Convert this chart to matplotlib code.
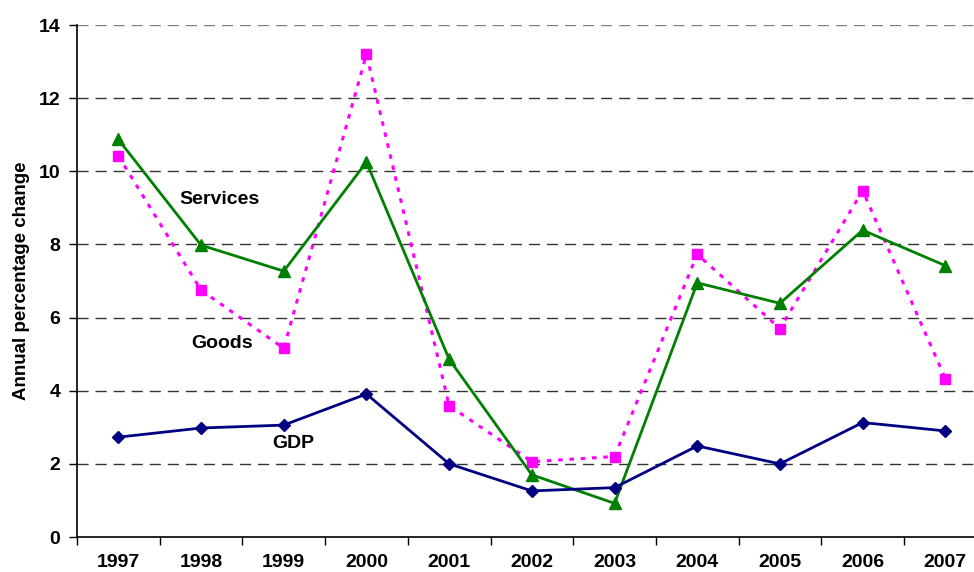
import matplotlib
matplotlib.use("Agg")
import matplotlib.pyplot as plt
from matplotlib.ticker import FixedLocator, NullFormatter

years = ["1997", "1998", "1999", "2000", "2001", "2002", "2003", "2004", "2005", "2006", "2007"]
gdp = [2.73, 2.98, 3.06, 3.91, 2.00, 1.26, 1.35, 2.49, 2.00, 3.13, 2.90]
goods = [10.42, 6.75, 5.16, 13.20, 3.59, 2.06, 2.20, 7.73, 5.70, 9.47, 4.33]
services = [10.87, 7.98, 7.27, 10.25, 4.86, 1.70, 0.92, 6.95, 6.39, 8.39, 7.42]
yticks = [0, 2, 4, 6, 8, 10, 12, 14]

plt.rcParams['font.family'] = ['Liberation Sans', 'DejaVu Sans']
plt.rcParams['font.weight'] = 'bold'

fig = plt.figure(figsize=(9.74, 5.72), dpi=100)
ax = fig.add_axes([77/974, 1 - 537/572, 1 - 77/974, (537 - 25)/572])

x = list(range(len(years)))
ax.plot(x, goods, color='#FF00FF', linestyle=(0, (1.5, 2.2)), linewidth=2.2,
        marker='s', markersize=7, markeredgecolor='#FF00FF', zorder=3)
ax.plot(x, services, color='#008000', linestyle='-', linewidth=2,
        marker='^', markersize=8, zorder=4)
ax.plot(x, gdp, color='#000080', linestyle='-', linewidth=2,
        marker='D', markersize=6, zorder=5)

ax.set_xlim(-0.5, -0.5 + (974 - 77) / 82.7)
ax.set_ylim(0, 14)

for yv in yticks[1:]:
    ax.axhline(yv, color='#808080' if yv == 14 else '#333333', linewidth=1,
               linestyle=(0, (8, 5)), zorder=1)

ax.set_yticks(yticks)
ax.set_yticklabels([str(v) for v in yticks], fontsize=14, fontweight='bold')
ax.xaxis.set_major_locator(FixedLocator([i - 0.5 for i in range(len(years) + 1)]))
ax.xaxis.set_major_formatter(NullFormatter())
ax.xaxis.set_minor_locator(FixedLocator(x))
ax.set_xticklabels(years, minor=True, fontsize=14, fontweight='bold')
ax.tick_params(axis='x', which='minor', length=0, pad=12)
ax.tick_params(axis='x', which='major', length=6, width=1, direction='out')
ax.tick_params(axis='y', length=6, width=1, direction='out', pad=6)

for s in ['top', 'right']:
    ax.spines[s].set_visible(False)
ax.spines['left'].set_linewidth(1.2)
ax.spines['bottom'].set_linewidth(1.2)

ax.set_ylabel("Annual percentage change", fontsize=13.5, fontweight='bold')
ax.yaxis.set_label_coords((30 - 77) / 897, 0.5)

ax.text(1.22, 9.22, "Services", fontsize=14, fontweight='bold', ha='center', va='center')
ax.text(1.25, 5.30, "Goods", fontsize=14, fontweight='bold', ha='center', va='center')
ax.text(2.11, 2.57, "GDP", fontsize=14, fontweight='bold', ha='center', va='center')

fig.savefig("out.png", dpi=100)
